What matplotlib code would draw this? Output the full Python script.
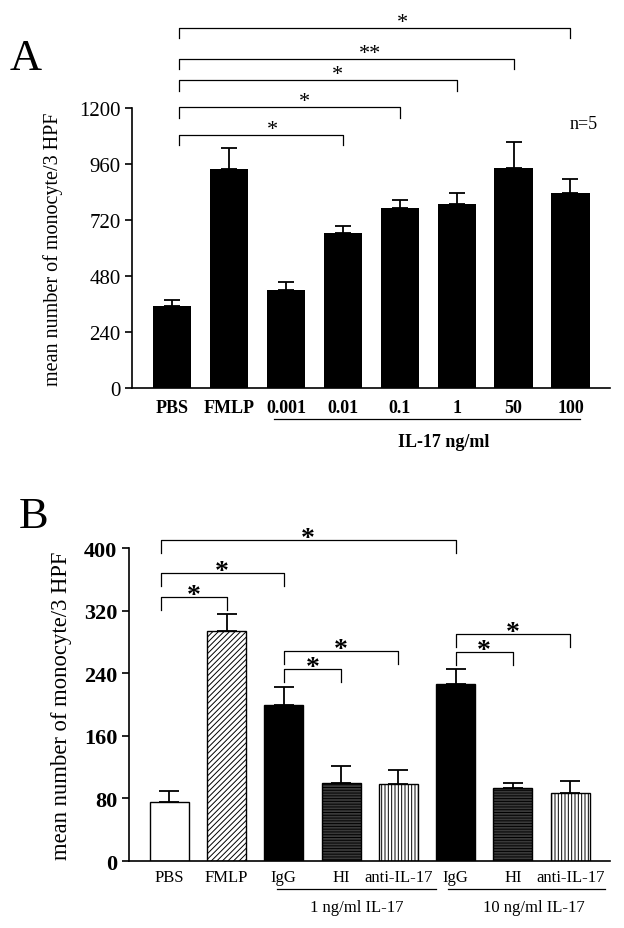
import numpy as np
import matplotlib.pyplot as plt
import matplotlib.transforms as mtransforms

plt.rcParams['font.family'] = ['Liberation Serif', 'DejaVu Serif']
plt.rcParams['hatch.linewidth'] = 0.7

# Panel A data
a_labels = ["PBS", "FMLP", "0.001", "0.01", "0.1", "1", "50", "100"]
a_means = [353, 939, 421, 664, 773, 789, 943, 837]
a_err = [24, 90, 35, 32, 33, 44, 110, 57]
# comparisons: (left bar, right bar, bracket height, mark)
a_brackets = [(0, 3, 1084, "*"), (0, 4, 1203, "*"), (0, 5, 1317, "*"),
              (0, 6, 1410, "**"), (0, 7, 1543, "*")]

# Panel B data
b_labels = ["PBS", "FMLP", "IgG", "HI", "anti-IL-17", "IgG", "HI", "anti-IL-17"]
b_means = [76, 294, 200, 100, 98, 226, 93, 87]
b_err = [14, 22, 22, 21, 19, 19, 7, 15]
b_brackets = [(0, 1, 337, "*"), (0, 2, 368, "*"), (0, 5, 410, "*"),
              (2, 3, 245, "*"), (2, 4, 268, "*"), (5, 6, 267, "*"), (5, 7, 290, "*")]

fig = plt.figure(figsize=(6.24, 9.29), dpi=100)

# ---------------- Panel A ----------------
axA = fig.add_axes([0.212, 0.581, 0.766, 0.302])
xa = np.arange(len(a_labels))
axA.bar(xa, a_means, width=0.67, color="black", yerr=[np.zeros(len(a_err)), a_err],
        error_kw=dict(ecolor="black", elinewidth=1.3, capsize=5.5, capthick=1.3))
axA.set_xlim(-0.7, 7.7)
axA.set_ylim(0, 1200)
axA.set_yticks([0, 240, 480, 720, 960, 1200])
axA.tick_params(axis="y", labelsize=15, direction="out", length=5, width=1.2)
axA.tick_params(axis="x", length=0, pad=8)
axA.set_xticks(xa)
axA.set_xticklabels(a_labels, fontsize=13, fontweight="bold")
for s in ["top", "right"]:
    axA.spines[s].set_visible(False)
for s in ["left", "bottom"]:
    axA.spines[s].set_linewidth(1.2)
axA.set_ylabel("mean number of monocyte/3 HPF", fontsize=14.5)
axA.yaxis.set_label_coords(-0.145, 0.5)

for i, j, h, mark in a_brackets:
    l, r = i + 0.12, j
    axA.plot([l, l, r, r], [h - 45, h, h, h - 45], color="black", lw=0.9, clip_on=False)
    axA.text(l + 0.57 * (r - l), h + 4, mark, ha="center", va="baseline", fontsize=16,
             clip_on=False)

axA.text(7.23, 1131, "n=5", ha="center", va="center", fontsize=13)

transA = mtransforms.blended_transform_factory(axA.transData, axA.transAxes)
axA.plot([1.79, 7.16], [-0.11, -0.11], color="black", lw=0.9, transform=transA, clip_on=False)
axA.text(4.77, -0.19, "IL-17 ng/ml", transform=transA, ha="center", va="center",
         fontsize=13, fontweight="bold")

fig.text(0.015, 1 - 59 / 929, "A", fontsize=32, va="center", ha="left")

# ---------------- Panel B ----------------
axB = fig.add_axes([0.207, 0.072, 0.771, 0.337])
xb = np.arange(len(b_labels))
faces = ["white", "white", "black", "#3a3a3a", "white", "black", "#3a3a3a", "white"]
hatches = [None, "//////", None, "------", "|||||", None, "------", "|||||"]
bars = axB.bar(xb, b_means, width=0.68, color=faces, edgecolor="black", linewidth=1.0,
               yerr=[np.zeros(len(b_err)), b_err],
               error_kw=dict(ecolor="black", elinewidth=1.3, capsize=7.5, capthick=1.3))
for b, h in zip(bars, hatches):
    if h:
        b.set_hatch(h)
axB.set_xlim(-0.7, 7.7)
axB.set_ylim(0, 400)
axB.set_yticks([0, 80, 160, 240, 320, 400])
axB.tick_params(axis="y", labelsize=16, direction="out", length=5, width=1.2)
for t in axB.get_yticklabels():
    t.set_fontweight("bold")
axB.tick_params(axis="x", length=0, pad=6)
axB.set_xticks(xb)
axB.set_xticklabels(b_labels, fontsize=12)
for s in ["top", "right"]:
    axB.spines[s].set_visible(False)
for s in ["left", "bottom"]:
    axB.spines[s].set_linewidth(1.2)
axB.set_ylabel("mean number of monocyte/3 HPF", fontsize=16.3)
axB.yaxis.set_label_coords(-0.118, 0.5)

for i, j, h, mark in b_brackets:
    l, r = (i - 0.15 if i == 0 else i), j
    axB.plot([l, l, r, r], [h - 16, h, h, h - 16], color="black", lw=0.9, clip_on=False)
    axB.text((l + r) / 2, h - 6, mark, ha="center", va="baseline", fontsize=20,
             fontweight="bold", clip_on=False)

transB = mtransforms.blended_transform_factory(axB.transData, axB.transAxes)
for x0, x1, xc, txt in [(1.88, 4.65, 3.28, "1 ng/ml IL-17"), (4.86, 7.61, 6.37, "10 ng/ml IL-17")]:
    axB.plot([x0, x1], [-0.089, -0.089], color="black", lw=0.9, transform=transB, clip_on=False)
    axB.text(xc, -0.147, txt, transform=transB, ha="center", va="center", fontsize=12)

fig.text(0.03, 1 - 517 / 929, "B", fontsize=32, va="center", ha="left")

fig.savefig("out.png", dpi=100)
